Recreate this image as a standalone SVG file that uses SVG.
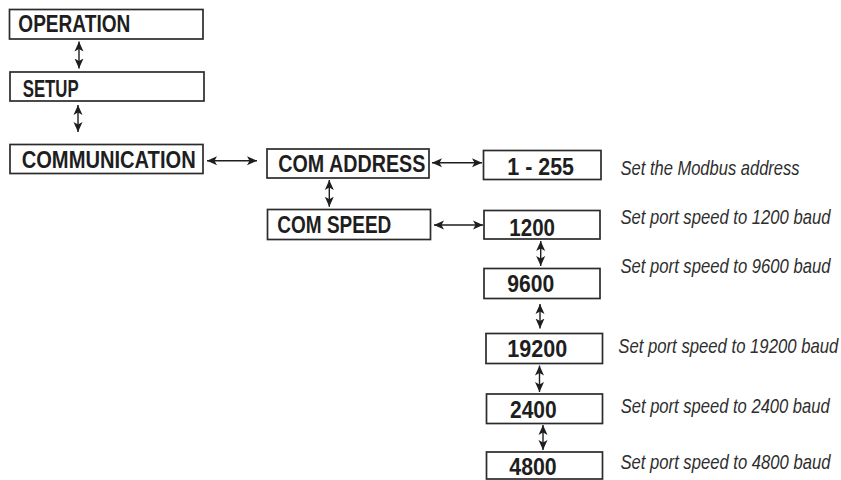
<svg xmlns="http://www.w3.org/2000/svg" width="841" height="480" viewBox="0 0 841 480">
<style>
.box{fill:#fff;stroke:#2b2b2b;stroke-width:1.7}
.lbl{font-family:"Liberation Sans",Arial,sans-serif;font-weight:bold;font-size:23px;fill:#1e1e1e}
.dsc{font-family:"Liberation Sans",Arial,sans-serif;font-style:italic;font-size:20px;fill:#2e2e2e}
.con{stroke:#1e1e1e;stroke-width:1.4;fill:none;marker-start:url(#ah);marker-end:url(#ah)}
</style>
<defs>
<marker id="ah" viewBox="0 0 10 10" refX="10" refY="5" markerWidth="10" markerHeight="10" markerUnits="userSpaceOnUse" orient="auto-start-reverse">
<path d="M0,0.5 L10,5 L0,9.5 L2.5,5 z" fill="#1e1e1e"/>
</marker>
</defs>
<rect width="841" height="480" fill="#fff"/>
<g id="connectors">
<line class="con" x1="79" y1="41.5" x2="79" y2="68.5"/>
<line class="con" x1="78" y1="105" x2="78" y2="132"/>
<line class="con" x1="207" y1="160.7" x2="257" y2="160.7"/>
<line class="con" x1="329.3" y1="180" x2="329.3" y2="206.7"/>
<line class="con" x1="432" y1="162.7" x2="482" y2="162.7"/>
<line class="con" x1="434" y1="225" x2="483" y2="225"/>
<line class="con" x1="540.7" y1="241" x2="540.7" y2="266"/>
<line class="con" x1="540" y1="304" x2="540" y2="328.5"/>
<line class="con" x1="539.5" y1="365.5" x2="539.5" y2="392"/>
<line class="con" x1="543" y1="425" x2="543" y2="450"/>
</g>
<g id="operation">
<rect class="box" x="9.5" y="9.5" width="193.5" height="29.5"/>
<text class="lbl" x="18.3" y="32" textLength="112" lengthAdjust="spacingAndGlyphs">OPERATION</text>
</g>
<g id="setup">
<rect class="box" x="10" y="72" width="194" height="29"/>
<text class="lbl" x="22.7" y="96.5" textLength="56" lengthAdjust="spacingAndGlyphs">SETUP</text>
</g>
<g id="communication">
<rect class="box" x="10" y="144.5" width="193" height="29"/>
<text class="lbl" x="21.7" y="168.3" textLength="174" lengthAdjust="spacingAndGlyphs">COMMUNICATION</text>
</g>
<g id="com-address">
<rect class="box" x="267" y="149" width="162" height="29"/>
<text class="lbl" x="278.3" y="171.7" textLength="147" lengthAdjust="spacingAndGlyphs">COM ADDRESS</text>
</g>
<g id="com-speed">
<rect class="box" x="267.5" y="209.5" width="163" height="30"/>
<text class="lbl" x="277.3" y="232.7" textLength="114" lengthAdjust="spacingAndGlyphs">COM SPEED</text>
</g>
<g id="addr-range">
<rect class="box" x="483.5" y="150.5" width="117.5" height="29"/>
<text class="lbl" x="507.3" y="175" textLength="66.7" lengthAdjust="spacingAndGlyphs">1 - 255</text>
<text class="dsc" transform="translate(620.5,175) scale(0.85,1)" textLength="210.6" lengthAdjust="spacingAndGlyphs">Set the Modbus address</text>
</g>
<g id="s1200">
<rect class="box" x="484" y="210.5" width="116" height="28.5"/>
<text class="lbl" x="509.3" y="236" textLength="45.7" lengthAdjust="spacingAndGlyphs">1200</text>
<text class="dsc" transform="translate(620.5,224) scale(0.85,1)" textLength="247" lengthAdjust="spacingAndGlyphs">Set port speed to 1200 baud</text>
</g>
<g id="s9600">
<rect class="box" x="484" y="268.5" width="116" height="30"/>
<text class="lbl" x="507.3" y="291.7" textLength="47" lengthAdjust="spacingAndGlyphs">9600</text>
<text class="dsc" transform="translate(620.5,272.7) scale(0.85,1)" textLength="247" lengthAdjust="spacingAndGlyphs">Set port speed to 9600 baud</text>
</g>
<g id="s19200">
<rect class="box" x="486" y="333.5" width="116.5" height="30"/>
<text class="lbl" x="507.3" y="357.3" textLength="60" lengthAdjust="spacingAndGlyphs">19200</text>
<text class="dsc" transform="translate(618.3,353.3) scale(0.85,1)" textLength="258.8" lengthAdjust="spacingAndGlyphs">Set port speed to 19200 baud</text>
</g>
<g id="s2400">
<rect class="box" x="486.5" y="394" width="116" height="29.5"/>
<text class="lbl" x="510" y="418.3" textLength="46.7" lengthAdjust="spacingAndGlyphs">2400</text>
<text class="dsc" transform="translate(620.7,413.3) scale(0.85,1)" textLength="245.9" lengthAdjust="spacingAndGlyphs">Set port speed to 2400 baud</text>
</g>
<g id="s4800">
<rect class="box" x="486.5" y="452" width="116" height="27"/>
<text class="lbl" x="509.3" y="475" textLength="47.4" lengthAdjust="spacingAndGlyphs">4800</text>
<text class="dsc" transform="translate(620.5,469.3) scale(0.85,1)" textLength="247" lengthAdjust="spacingAndGlyphs">Set port speed to 4800 baud</text>
</g>
</svg>
